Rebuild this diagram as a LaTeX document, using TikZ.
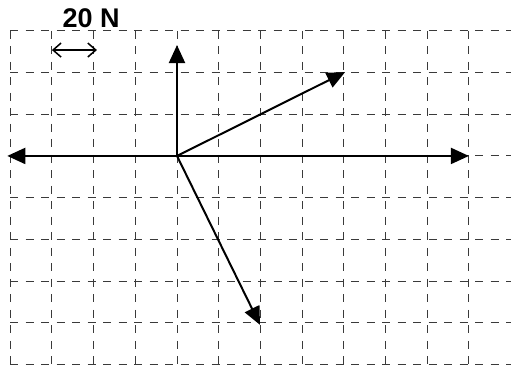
\documentclass[tikz,border=0pt]{standalone}
\usepackage{fontspec}
\setmainfont{Liberation Sans}
\usepackage{tikz}
\usetikzlibrary{arrows.meta}
\definecolor{grid_gray}{HTML}{3A3A3A}

\begin{document}
\begin{tikzpicture}[
    x=41.7pt, y=41.7pt,
    gridline/.style={draw=grid_gray, line width=1pt, dash pattern=on 8pt off 7.5pt},
    force/.style={draw=black, line width=2pt, -{Triangle[length=18pt, width=16pt]}},
    scalebar/.style={draw=black, line width=1.5pt, {Straight Barb[length=8pt, width=14pt]}-{Straight Barb[length=8pt, width=14pt]}}
]

%% ================================================================
%% Rahmen und Raster
%% ================================================================
\useasboundingbox (-4.245,-5.06) rectangle (8.01,3.74);
\fill[white] (-4.245,-5.06) rectangle (8.01,3.74);

\foreach \x in {-4,...,7} {
    \draw[gridline] (\x, 3) -- (\x, -5);
}
\foreach \y in {3,2,...,-5} {
    \draw[gridline] (-4, \y) -- (8.01, \y);
}

%% ================================================================
%% Massstab
%% ================================================================
\coordinate (scaleL) at (-3.0, 2.54);
\coordinate (scaleR) at (-1.92, 2.54);
\draw[scalebar] (scaleL) -- (scaleR);
\node[font=\fontsize{27}{32}\selectfont\bfseries] (scaletext) at (-2.06, 3.30) {20 N};

%% ================================================================
%% Kraefte am Angriffspunkt
%% ================================================================
\coordinate (O) at (0, 0);
\coordinate (Fup)    at (0, 2.66);
\coordinate (Fleft)  at (-4.07, 0);
\coordinate (Fright) at (7.0, 0);
\coordinate (Fdiag)  at (4.03, 2.01);
\coordinate (Fdown)  at (1.99, -4.05);

\draw[force] (O) -- (Fup);
\draw[force] (O) -- (Fleft);
\draw[force] (O) -- (Fright);
\draw[force] (O) -- (Fdiag);
\draw[force] (O) -- (Fdown);

\end{tikzpicture}
\end{document}
